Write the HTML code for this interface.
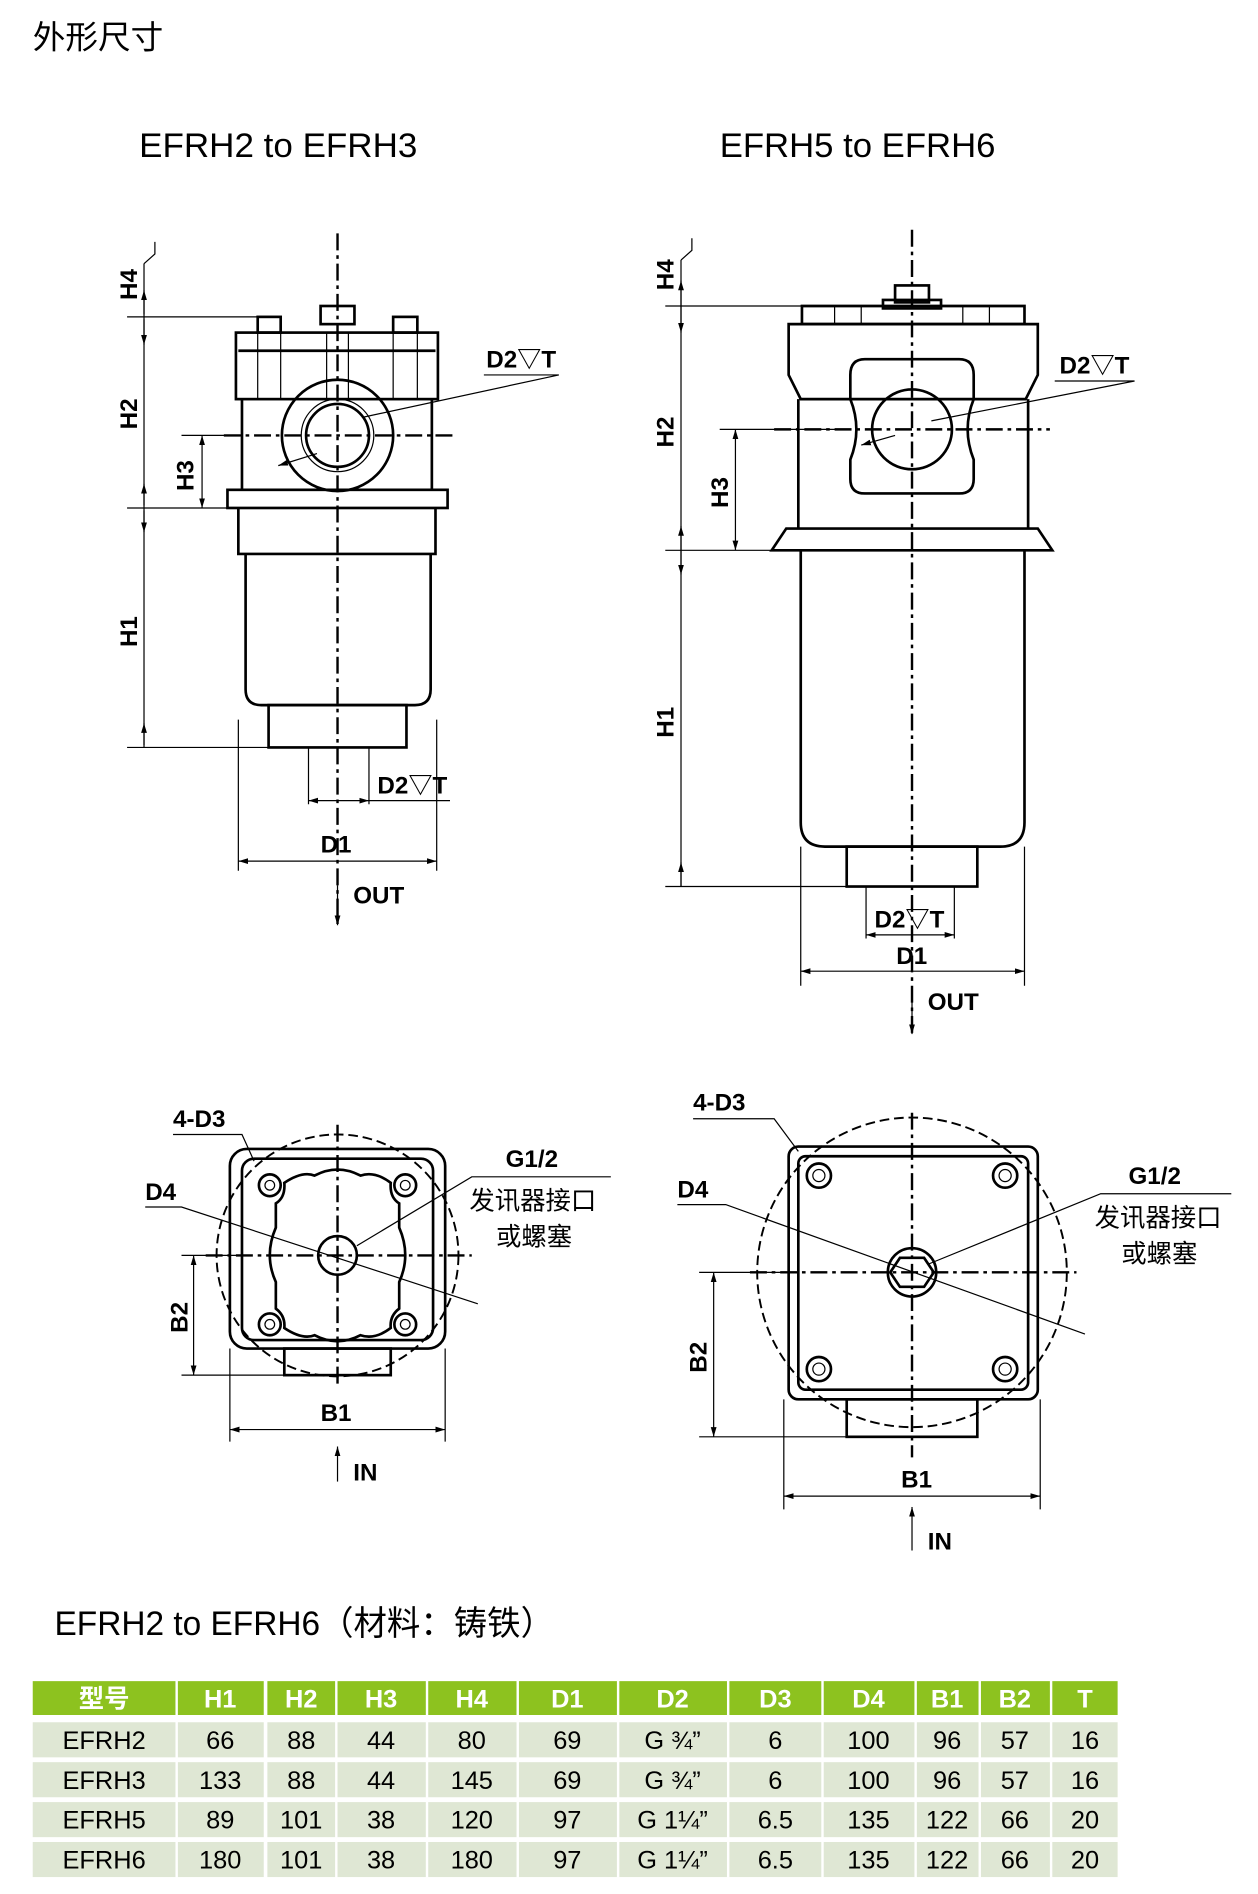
<!DOCTYPE html>
<html><head><meta charset="utf-8"><style>
html,body{margin:0;padding:0;background:#fff}
svg{display:block}
text{font-family:"Liberation Sans","Noto Sans CJK SC",sans-serif}
.b{font-weight:bold;font-size:20px}
.t{stroke:#000;fill:none;stroke-width:2.2}
.n{stroke:#000;fill:none;stroke-width:1}
.c{stroke:#000;fill:none;stroke-width:2;stroke-dasharray:14 4 3 4}
.d{stroke:#000;fill:none;stroke-width:1.6;stroke-dasharray:8 4}
.cell{font-size:21px;text-anchor:middle}
.h{font-size:21px;text-anchor:middle;fill:#fff;font-weight:bold}
</style></head><body>
<svg width="1258" height="1894" viewBox="0 0 1040 1566" xmlns="http://www.w3.org/2000/svg">
<defs>
<marker id="a" viewBox="0 0 10 10" refX="10" refY="5" markerWidth="8" markerHeight="8" orient="auto-start-reverse"><path d="M0,2L10,5L0,8z" fill="#000"/></marker>
</defs>
<text x="27" y="40" font-size="27">外形尺寸</text>
<text x="115" y="130" font-size="28" textLength="230" lengthAdjust="spacingAndGlyphs">EFRH2 to EFRH3</text>
<text x="595" y="130" font-size="28" textLength="228" lengthAdjust="spacingAndGlyphs">EFRH5 to EFRH6</text>

<!-- LEFT ELEVATION -->
<line class="c" x1="279" y1="193" x2="279" y2="765"/>
<rect class="t" x="265" y="253" width="28" height="15"/>
<rect class="t" x="213" y="262" width="19" height="13"/>
<rect class="t" x="325" y="262" width="20" height="13"/>
<rect class="t" x="195" y="275" width="167" height="55"/>
<line class="t" x1="197" y1="290" x2="360" y2="290"/>
<path class="n" d="M213 275V330M232 275V330M325 275V330M345 275V330M270 275V330M288 275V330"/>
<path class="t" d="M200 330V405M357 330V405"/>
<circle class="t" cx="279" cy="360" r="46"/>
<circle class="t" cx="279" cy="360" r="26"/>
<circle class="n" cx="279" cy="360" r="30"/>
<line class="c" x1="185" y1="360" x2="375" y2="360"/>
<rect class="t" x="188" y="405" width="182" height="15"/>
<path class="t" d="M197 420V458H360V420M203 458V570Q203 583 216 583H343Q356 583 356 570V458"/>
<rect class="t" x="222" y="583" width="114" height="35"/>
<path class="n" d="M119 218V260M119 264V418M119 422V616"/>
<line class="n" x1="119" y1="262" x2="119" y2="240" marker-end="url(#a)"/>
<line class="n" x1="119" y1="262" x2="119" y2="285" marker-end="url(#a)"/>
<line class="n" x1="119" y1="420" x2="119" y2="400" marker-end="url(#a)"/>
<line class="n" x1="119" y1="420" x2="119" y2="440" marker-end="url(#a)"/>
<line class="n" x1="119" y1="618" x2="119" y2="598" marker-end="url(#a)"/>
<path class="n" d="M119 218L128 210V200M105 262H213M105 420H190M105 618H222M150 360H200M150 420H188"/>
<line class="n" x1="167" y1="360" x2="167" y2="420" marker-start="url(#a)" marker-end="url(#a)"/>
<text class="b" transform="translate(113,248) rotate(-90)">H4</text>
<text class="b" transform="translate(113,355) rotate(-90)">H2</text>
<text class="b" transform="translate(160,406) rotate(-90)">H3</text>
<text class="b" transform="translate(113,535) rotate(-90)">H1</text>
<text class="b" x="402" y="304">D2▽T</text>
<path class="n" d="M400 310H462L300 345"/>
<line class="n" x1="262" y1="375" x2="230" y2="385" marker-end="url(#a)"/>
<path class="n" d="M255 618V665M305 618V665M197 595V720M361 595V720"/>
<line class="n" x1="255" y1="662" x2="305" y2="662" marker-start="url(#a)" marker-end="url(#a)"/>
<path class="n" d="M305 662H372"/>
<text class="b" x="312" y="656">D2▽T</text>
<line class="n" x1="197" y1="712" x2="361" y2="712" marker-start="url(#a)" marker-end="url(#a)"/>
<text class="b" x="265" y="705">D1</text>
<line class="n" x1="279" y1="732" x2="279" y2="765" stroke-width="1.5" marker-end="url(#a)"/>
<text class="b" x="292" y="747">OUT</text>

<!-- RIGHT ELEVATION -->
<line class="c" x1="754" y1="190" x2="754" y2="855"/>
<rect class="t" x="740" y="236" width="28" height="14"/>
<rect class="t" x="730" y="248" width="48" height="7"/>
<path class="t" d="M663 253H847V268H663Z"/>
<path class="t" d="M652 268H858V310L848 330H662L652 310Z"/>
<path class="n" d="M690 253V268M712 253V268M796 253V268M818 253V268"/>
<path class="t" d="M660 330V437M850 330V437"/>
<path class="t" d="M715 297H793Q805 297 805 310V330Q795 355 805 380V396Q805 408 793 408H715Q703 408 703 396V380Q713 355 703 330V310Q703 297 715 297Z"/>
<circle class="t" cx="754" cy="355" r="33"/>
<line class="c" x1="640" y1="355" x2="868" y2="355"/>
<path class="t" d="M650 437H858L870 455H638Z"/>
<path class="t" d="M662 455V680Q662 700 682 700H827Q847 700 847 680V455"/>
<rect class="t" x="700" y="700" width="108" height="33"/>
<path class="n" d="M563 215V733"/>
<path class="n" d="M563 215L572 207V197M550 253H663M550 455H640M550 733H700M595 355H700M595 455H640"/>
<line class="n" x1="563" y1="253" x2="563" y2="232" marker-end="url(#a)"/>
<line class="n" x1="563" y1="253" x2="563" y2="275" marker-end="url(#a)"/>
<line class="n" x1="563" y1="455" x2="563" y2="435" marker-end="url(#a)"/>
<line class="n" x1="563" y1="455" x2="563" y2="475" marker-end="url(#a)"/>
<line class="n" x1="563" y1="733" x2="563" y2="713" marker-end="url(#a)"/>
<line class="n" x1="608" y1="355" x2="608" y2="455" marker-start="url(#a)" marker-end="url(#a)"/>
<text class="b" transform="translate(557,240) rotate(-90)">H4</text>
<text class="b" transform="translate(557,370) rotate(-90)">H2</text>
<text class="b" transform="translate(602,420) rotate(-90)">H3</text>
<text class="b" transform="translate(557,610) rotate(-90)">H1</text>
<text class="b" x="876" y="309">D2▽T</text>
<path class="n" d="M872 315H938L770 348"/>
<line class="n" x1="740" y1="360" x2="712" y2="368" marker-end="url(#a)"/>
<path class="n" d="M716 733V776M789 733V776M662 700V815M847 700V815"/>
<line class="n" x1="716" y1="773" x2="789" y2="773" marker-start="url(#a)" marker-end="url(#a)"/>
<text class="b" x="723" y="767">D2▽T</text>
<text class="b" x="741" y="797">D1</text>
<line class="n" x1="662" y1="803" x2="847" y2="803" marker-start="url(#a)" marker-end="url(#a)"/>
<line class="n" x1="754" y1="818" x2="754" y2="855" stroke-width="1.5" marker-end="url(#a)"/>
<text class="b" x="767" y="835">OUT</text>

<!-- BOTTOM LEFT PLAN -->
<circle class="d" cx="279" cy="1038" r="100"/>
<line class="c" x1="170" y1="1038" x2="390" y2="1038"/>
<line class="c" x1="279" y1="930" x2="279" y2="1145"/>
<rect class="t" x="190" y="950" width="178" height="165" rx="14"/>
<rect class="t" x="200" y="958" width="158" height="150" rx="10"/>
<rect class="t" x="235" y="1115" width="88" height="22"/>
<path class="t" d="M235 978Q250 968 260 972Q279 962 298 972Q310 968 323 978Q322 990 330 995V1015Q340 1038 330 1060V1082Q322 1088 323 1098Q310 1108 298 1104Q279 1114 260 1104Q250 1108 235 1098Q236 1088 228 1082V1060Q218 1038 228 1015V995Q236 990 235 978Z"/>
<circle class="t" cx="279" cy="1038" r="16"/>
<g class="t"><circle cx="223" cy="980" r="9"/><circle cx="335" cy="980" r="9"/><circle cx="223" cy="1095" r="9"/><circle cx="335" cy="1095" r="9"/></g>
<g class="n"><circle cx="223" cy="980" r="4"/><circle cx="335" cy="980" r="4"/><circle cx="223" cy="1095" r="4"/><circle cx="335" cy="1095" r="4"/></g>
<text class="b" x="143" y="932">4-D3</text>
<path class="n" d="M143 938H200L210 960"/>
<text class="b" x="120" y="992">D4</text>
<path class="n" d="M120 998H150L395 1078"/>
<text class="b" x="418" y="965">G1/2</text>
<path class="n" d="M505 973H390L295 1030"/>
<text x="388" y="1000" font-size="21">发讯器接口</text>
<text x="410" y="1030" font-size="21">或螺塞</text>
<path class="n" d="M150 1038H200M150 1137H235M190 1115V1192M368 1115V1192"/>
<line class="n" x1="160" y1="1038" x2="160" y2="1137" marker-start="url(#a)" marker-end="url(#a)"/>
<text class="b" transform="translate(155,1102) rotate(-90)">B2</text>
<line class="n" x1="190" y1="1182" x2="368" y2="1182" marker-start="url(#a)" marker-end="url(#a)"/>
<text class="b" x="265" y="1175">B1</text>
<line class="n" x1="279" y1="1225" x2="279" y2="1196" stroke-width="1.5" marker-end="url(#a)"/>
<text class="b" x="292" y="1224">IN</text>

<!-- BOTTOM RIGHT PLAN -->
<circle class="d" cx="754" cy="1052" r="128"/>
<line class="c" x1="620" y1="1052" x2="890" y2="1052"/>
<line class="c" x1="754" y1="920" x2="754" y2="1205"/>
<rect class="t" x="652" y="948" width="206" height="209" rx="8"/>
<rect class="t" x="660" y="956" width="190" height="193" rx="6"/>
<rect class="t" x="700" y="1157" width="108" height="31"/>
<g class="t"><circle cx="677" cy="972" r="10"/><circle cx="831" cy="972" r="10"/><circle cx="677" cy="1132" r="10"/><circle cx="831" cy="1132" r="10"/></g>
<g class="n"><circle cx="677" cy="972" r="5"/><circle cx="831" cy="972" r="5"/><circle cx="677" cy="1132" r="5"/><circle cx="831" cy="1132" r="5"/></g>
<circle class="t" cx="754" cy="1052" r="20"/>
<path class="t" d="M744 1040H764L772 1052L764 1064H744L736 1052Z"/>
<text class="b" x="573" y="918">4-D3</text>
<path class="n" d="M573 925H640L660 952"/>
<text class="b" x="560" y="990">D4</text>
<path class="n" d="M560 996H600L897 1103"/>
<text class="b" x="933" y="979">G1/2</text>
<path class="n" d="M1018 987H910L768 1045"/>
<text x="905" y="1014" font-size="21">发讯器接口</text>
<text x="927" y="1044" font-size="21">或螺塞</text>
<path class="n" d="M578 1052H660M578 1188H700M648 1157V1248M860 1157V1248"/>
<line class="n" x1="590" y1="1052" x2="590" y2="1188" marker-start="url(#a)" marker-end="url(#a)"/>
<text class="b" transform="translate(584,1135) rotate(-90)">B2</text>
<line class="n" x1="648" y1="1237" x2="860" y2="1237" marker-start="url(#a)" marker-end="url(#a)"/>
<text class="b" x="745" y="1230">B1</text>
<line class="n" x1="754" y1="1282" x2="754" y2="1246" stroke-width="1.5" marker-end="url(#a)"/>
<text class="b" x="767" y="1281">IN</text>

<!-- TABLE -->
<text x="45" y="1352" font-size="28" textLength="413" lengthAdjust="spacingAndGlyphs">EFRH2 to EFRH6（材料：铸铁）</text>
<g fill="#8dc21f">
<rect x="27" y="1390" width="118" height="28"/><rect x="147" y="1390" width="71" height="28"/><rect x="221" y="1390" width="56" height="28"/><rect x="279" y="1390" width="73" height="28"/><rect x="354" y="1390" width="73" height="28"/><rect x="429" y="1390" width="81" height="28"/><rect x="512" y="1390" width="89" height="28"/><rect x="603" y="1390" width="76" height="28"/><rect x="681" y="1390" width="75" height="28"/><rect x="758" y="1390" width="51" height="28"/><rect x="811" y="1390" width="57" height="28"/><rect x="870" y="1390" width="54" height="28"/>
</g>
<g id="r1" fill="#dfe7d4">
<rect x="27" y="1424" width="118" height="29"/><rect x="147" y="1424" width="71" height="29"/><rect x="221" y="1424" width="56" height="29"/><rect x="279" y="1424" width="73" height="29"/><rect x="354" y="1424" width="73" height="29"/><rect x="429" y="1424" width="81" height="29"/><rect x="512" y="1424" width="89" height="29"/><rect x="603" y="1424" width="76" height="29"/><rect x="681" y="1424" width="75" height="29"/><rect x="758" y="1424" width="51" height="29"/><rect x="811" y="1424" width="57" height="29"/><rect x="870" y="1424" width="54" height="29"/>
</g>
<use href="#r1" y="66"/>
<g fill="#f0f3ea"><use href="#r1" y="33"/><use href="#r1" y="99"/></g>
<g class="h">
<text x="86" y="1412">型号</text><text x="182" y="1412">H1</text><text x="249" y="1412">H2</text><text x="315" y="1412">H3</text><text x="390" y="1412">H4</text><text x="469" y="1412">D1</text><text x="556" y="1412">D2</text><text x="641" y="1412">D3</text><text x="718" y="1412">D4</text><text x="783" y="1412">B1</text><text x="839" y="1412">B2</text><text x="897" y="1412">T</text>
</g>
<g class="cell">
<text x="86" y="1446">EFRH2</text><text x="182" y="1446">66</text><text x="249" y="1446">88</text><text x="315" y="1446">44</text><text x="390" y="1446">80</text><text x="469" y="1446">69</text><text x="556" y="1446">G ¾”</text><text x="641" y="1446">6</text><text x="718" y="1446">100</text><text x="783" y="1446">96</text><text x="839" y="1446">57</text><text x="897" y="1446">16</text>
<text x="86" y="1479">EFRH3</text><text x="182" y="1479">133</text><text x="249" y="1479">88</text><text x="315" y="1479">44</text><text x="390" y="1479">145</text><text x="469" y="1479">69</text><text x="556" y="1479">G ¾”</text><text x="641" y="1479">6</text><text x="718" y="1479">100</text><text x="783" y="1479">96</text><text x="839" y="1479">57</text><text x="897" y="1479">16</text>
<text x="86" y="1512">EFRH5</text><text x="182" y="1512">89</text><text x="249" y="1512">101</text><text x="315" y="1512">38</text><text x="390" y="1512">120</text><text x="469" y="1512">97</text><text x="556" y="1512">G 1¼”</text><text x="641" y="1512">6.5</text><text x="718" y="1512">135</text><text x="783" y="1512">122</text><text x="839" y="1512">66</text><text x="897" y="1512">20</text>
<text x="86" y="1545">EFRH6</text><text x="182" y="1545">180</text><text x="249" y="1545">101</text><text x="315" y="1545">38</text><text x="390" y="1545">180</text><text x="469" y="1545">97</text><text x="556" y="1545">G 1¼”</text><text x="641" y="1545">6.5</text><text x="718" y="1545">135</text><text x="783" y="1545">122</text><text x="839" y="1545">66</text><text x="897" y="1545">20</text>
</g>
</svg>
</body></html>
